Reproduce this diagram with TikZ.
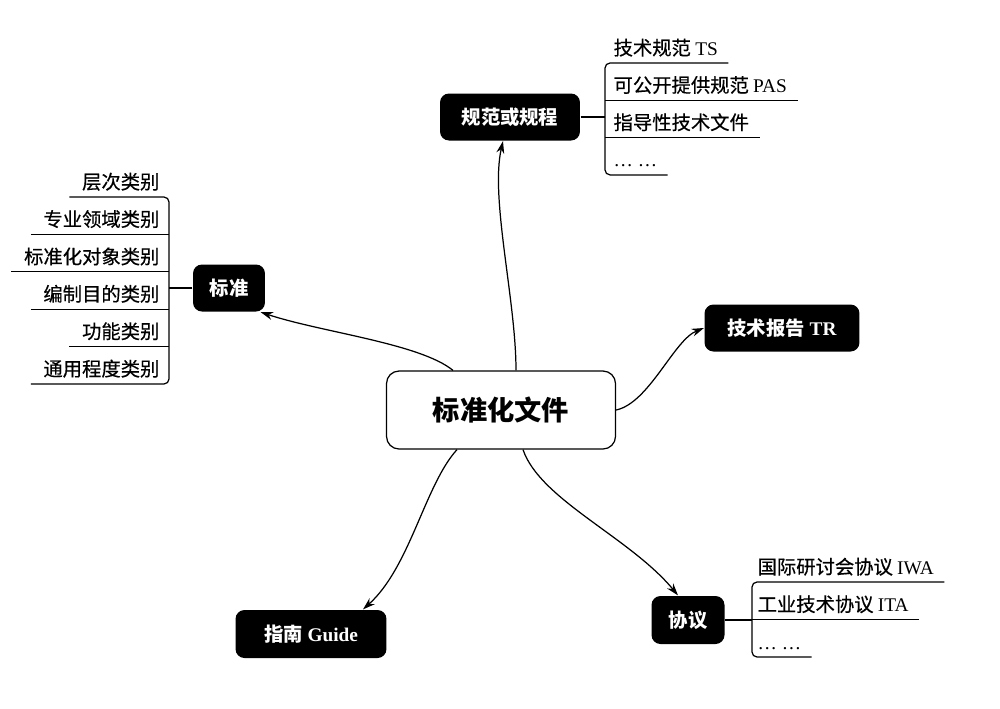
\documentclass[tikz,border=0pt]{standalone}
\usepackage{fontspec}
\setmainfont{Liberation Serif}
\newfontfamily\cjk{Noto Sans CJK SC}
\newfontfamily\cjkleaf{Noto Sans CJK SC}[FakeBold=0.5]
\usetikzlibrary{calc,arrows.meta}

\begin{document}
\begin{tikzpicture}[x=0.02cm, y=-0.02cm, line width=0.7pt,
    rootbox/.style={draw, rounded corners=0.25cm, minimum width=4.58cm, minimum height=1.56cm,
        font=\fontsize{15.5pt}{18pt}\selectfont\cjk\bfseries},
    topic/.style={fill=black, text=white, rounded corners=0.18cm, minimum height=0.94cm,
        inner sep=0pt, font=\fontsize{11pt}{13pt}\selectfont\bfseries},
    leafl/.style={anchor=base east, inner sep=0pt, font=\fontsize{11pt}{13pt}\selectfont\cjkleaf},
    leafr/.style={anchor=base west, inner sep=0pt, font=\fontsize{11pt}{13pt}\selectfont\cjkleaf},
    link/.style={-{Stealth[length=7pt,width=4.5pt]}}]
    \useasboundingbox (0,0) rectangle (1000,708);
    \node[rootbox] (root) at (501,410) {标准化文件};
    \node[topic, minimum width=1.44cm] (biaozhun) at (229,288) {\cjk 标准};
    \node[topic, minimum width=2.8cm] (guifan) at (510,117) {\cjk 规范或规程};
    \node[topic, minimum width=3.1cm] (tr) at (782,328) {{\cjk 技术报告} TR};
    \node[topic, minimum width=1.46cm, minimum height=0.96cm] (xieyi) at (688,620) {\cjk 协议};
    \node[topic, minimum width=3.02cm, minimum height=0.96cm] (guide) at (311,634) {{\cjk 指南} Guide};
    % 标准
    \coordinate (stdbar) at (169,197);
    \foreach \txt [count=\k] in {层次类别,专业领域类别,标准化对象类别,编制目的类别,功能类别,通用程度类别}{
        \node[leafl] (std\k) at (160,{189+37.4*(\k-1)}) {\txt};
        \coordinate (stdu\k) at ($(std\k.base west)+(-12,8)$);
    }
    \draw[rounded corners=0.1cm] (stdu1) -- (stdu1 -| stdbar) -- (stdu6 -| stdbar) -- (stdu6);
    \foreach \k in {2,...,5} \draw (stdu\k) -- (stdu\k -| stdbar);
    \draw (biaozhun.west) -- (biaozhun.west -| stdbar);
    % 规范或规程
    \coordinate (gfbar) at (605,63);
    \foreach \txt [count=\k] in {{技术规范 {\rmfamily TS}},{可公开提供规范 {\rmfamily PAS}},指导性技术文件,{\rmfamily …\ …}}{
        \node[leafr] (gf\k) at (613,{55+37.3*(\k-1)}) {\txt};
        \coordinate (gfu\k) at ($(gf\k.base east)+(10,8)$);
    }
    \draw[rounded corners=0.1cm] (gfu1) -- (gfu1 -| gfbar) -- (gfu4 -| gfbar) -- (gfu4);
    \foreach \k in {2,3} \draw (gfu\k) -- (gfu\k -| gfbar);
    \draw (guifan.east) -- (guifan.east -| gfbar);
    % 协议
    \coordinate (xybar) at (752,582);
    \foreach \txt [count=\k] in {{国际研讨会协议 {\rmfamily IWA}},{工业技术协议 {\rmfamily ITA}},{\rmfamily …\ …}}{
        \node[leafr] (xy\k) at (757,{574+37.5*(\k-1)}) {\txt};
        \coordinate (xyu\k) at ($(xy\k.base east)+(10,8)$);
    }
    \draw[rounded corners=0.1cm] (xyu1) -- (xyu1 -| xybar) -- (xyu3 -| xybar) -- (xyu3);
    \draw (xyu2) -- (xyu2 -| xybar);
    \draw (xieyi.east) -- (xieyi.east -| xybar);
    % arrows
    \draw[link] ([xshift=-0.96cm]root.north) .. controls +(-33,-27) and +(60,20) .. ([xshift=-0.1cm]biaozhun.south east);
    \draw[link] ([xshift=0.3cm]root.north) .. controls +(0,-70) and +(-13,57) .. ([xshift=-0.14cm]guifan.south);
    \draw[link] (root.east) .. controls +(33,-7) and +(-30,12) .. (tr.west);
    \draw[link] ([xshift=0.44cm]root.south) .. controls +(17,50) and +(-48,-58) .. ([xshift=-0.2cm]xieyi.north);
    \draw[link] ([xshift=-0.88cm]root.south) .. controls +(-32,35) and +(47,-42) .. ([xshift=1.04cm]guide.north);
\end{tikzpicture}
\end{document}
